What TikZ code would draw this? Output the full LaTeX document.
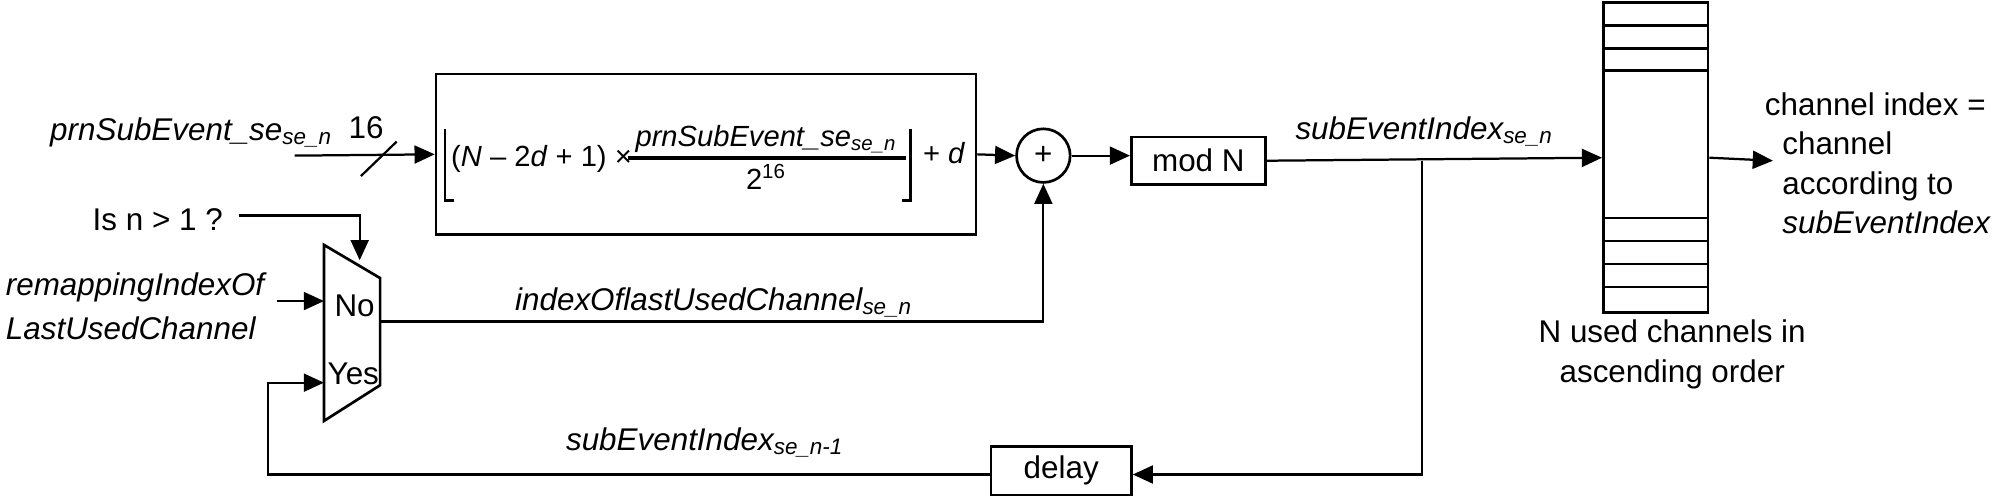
\documentclass[tikz,border=0pt]{standalone}
\usepackage{fontspec}
\setmainfont{Liberation Sans}
\usetikzlibrary{arrows.meta}
\begin{document}
\begin{tikzpicture}[x=0.01cm,y=-0.01cm,
  every node/.style={font=\fontsize{7}{6.8}\selectfont,inner sep=0pt},
  ln/.style={line width=0.5pt},
  arr/.style={ln,-{Triangle[length=4.5pt,width=4pt]}},
  box/.style={draw,line width=0.6pt,rectangle},
  fm/.style={font=\fontsize{6.5}{6.5}\selectfont}]
\useasboundingbox (0,0) rectangle (1568,390);
% formula box
\node[box,minimum width=4.23cm,minimum height=1.26cm] (fb) at (553.5,121) {};
\node[fm,anchor=west] (lhs) at (353,125) {(\textit{N} – 2\textit{d} + 1) ×};
\node[fm,anchor=south] (num) at (601,121) {\textit{prnSubEvent\_se\textsubscript{se\_n}}};
\node[fm,anchor=north] (den) at (601,128) {2\textsuperscript{16}};
\draw[line width=0.8pt] (492,124) -- (710,124);
\draw[line width=0.6pt] (349,101) -- (349,157) -- (356,157);
\draw[line width=0.6pt] (714,101) -- (714,157) -- (707,157);
\node[fm,anchor=west] (pd) at (723,120) {+ \textit{d}};
% input
\node[anchor=east] (prn) at (262,104) {\textit{prnSubEvent\_se\textsubscript{se\_n}}};
\coordinate (prnstart) at (231,122);
\draw[arr] (prnstart) -- (fb.west);
\draw[ln] (283,138) -- (311,111);
\node (n16) at (287,100) {16};
% plus
\node[draw,circle,line width=0.6pt,minimum size=0.42cm] (plus) at (818,122) {+};
\draw[arr] (fb.east) -- (plus.west);
% mod N
\node[box,minimum width=1.05cm,minimum height=0.37cm] (modn) at (939.5,126) {mod N};
\draw[arr] (plus.east) -- (modn.west |- plus.east);
% table
\node[box,minimum width=0.82cm,minimum height=2.43cm,anchor=north west] (tab) at (1256,1) {};
\foreach \yy in {20,38,55,171,189,207,225} \draw[line width=0.6pt] (1256,\yy) -- (1338,\yy);
\coordinate (split) at (1115,126);
\draw[arr] (modn.east) -- (tab.west);
\node[anchor=west] (sei) at (1015,103) {\textit{subEventIndex\textsubscript{se\_n}}};
\node[align=center] (nused) at (1311,278) {N used channels in\\[2pt]ascending order};
\coordinate (outtip) at (1390,126);
\draw[arr] (tab.east) -- (outtip);
\node[anchor=north west,align=left] (chidx) at (1383,72) {channel index =\\[2pt]\ \ channel\\[2pt]\ \ according to\\[2pt]\ \ \textit{subEventIndex}};
% mux
\draw[line width=0.6pt] (254,192) -- (298,218) -- (298,302) -- (254,330) -- cycle;
\coordinate (muxtop) at (282,204);
\coordinate (muxNo) at (254,236);
\coordinate (muxYes) at (254,300);
\coordinate (muxout) at (298,252);
\node (no) at (278,240) {No};
\node (yes) at (277,293) {Yes};
\node[anchor=west] (isn) at (72,172) {Is n > 1 ?};
\draw[arr] (187,169) -- (282,169) -- (muxtop);
\node[anchor=east,align=left] (remap) at (210,240) {\textit{remappingIndexOf}\\[3pt]\textit{LastUsedChannel}};
\draw[arr] (217,236) -- (muxNo);
\draw[arr] (muxout) -- (818,252) -- (plus.south);
\node (iol) at (560,237) {\textit{indexOflastUsedChannel\textsubscript{se\_n}}};
% delay
\node[box,minimum width=1.1cm,minimum height=0.38cm] (delay) at (832,369) {delay};
\draw[arr] (split) -- (1115,372) -- (delay.east |- 0,372);
\draw[arr] (delay.west |- 0,372) -- (210,372) -- (210,300) -- (muxYes);
\node (sem1) at (553,347) {\textit{subEventIndex\textsubscript{se\_n-1}}};
\end{tikzpicture}
\end{document}
